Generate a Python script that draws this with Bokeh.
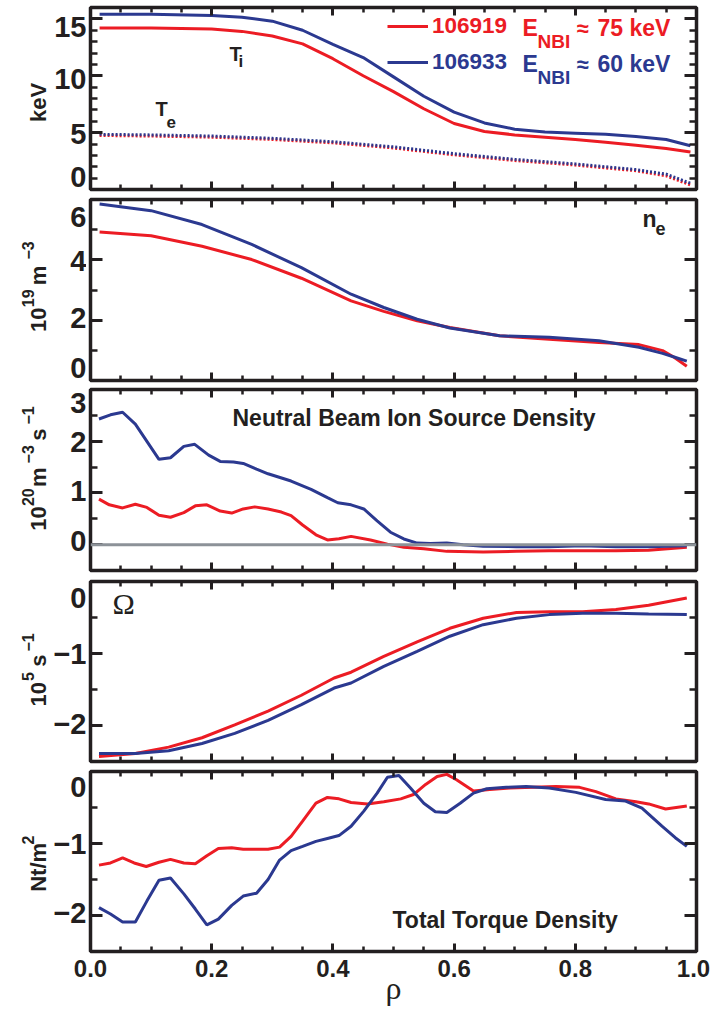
import math
from bokeh.plotting import figure
from bokeh.layouts import column, row
from bokeh.models import (Range1d, LinearAxis, FixedTicker, Label, Legend,
                          LegendItem, Span)
from bokeh.embed import file_html
from bokeh.resources import INLINE

# ---------------- data ----------------
shots = ["106919", "106933"]
enbi = ["75 keV", "60 keV"]

rho_ti = [0.015, 0.1, 0.2, 0.25, 0.3, 0.35, 0.4, 0.45, 0.5, 0.55, 0.6, 0.65, 0.7, 0.75, 0.8, 0.85, 0.9, 0.95, 0.99]
ti_106919 = [14.2, 14.2, 14.1, 13.9, 13.5, 12.8, 11.5, 10.0, 8.6, 7.1, 5.8, 5.1, 4.8, 4.6, 4.4, 4.15, 3.9, 3.6, 3.3]
ti_106933 = [15.4, 15.4, 15.3, 15.15, 14.8, 14.0, 12.75, 11.6, 9.9, 8.2, 6.8, 5.85, 5.3, 5.05, 4.95, 4.85, 4.65, 4.4, 3.85]

rho_te = [0.015, 0.1, 0.2, 0.3, 0.4, 0.5, 0.6, 0.7, 0.8, 0.9, 0.95, 0.99]
te_106919 = [4.75, 4.7, 4.6, 4.4, 4.1, 3.65, 3.05, 2.55, 2.15, 1.65, 1.2, 0.4]
te_106933 = [4.85, 4.8, 4.7, 4.5, 4.2, 3.75, 3.15, 2.65, 2.25, 1.75, 1.35, 0.55]

rho_ne = [0.015, 0.1, 0.184, 0.266, 0.348, 0.43, 0.484, 0.539, 0.593, 0.675, 0.757, 0.839, 0.905, 0.944, 0.963, 0.984]
ne_106919 = [4.92, 4.80, 4.45, 4.01, 3.39, 2.64, 2.29, 1.98, 1.76, 1.48, 1.37, 1.26, 1.19, 0.99, 0.77, 0.47]
ne_106933 = [5.85, 5.63, 5.17, 4.51, 3.74, 2.86, 2.42, 2.03, 1.74, 1.48, 1.43, 1.32, 1.10, 0.90, 0.78, 0.64]

rho_nb_106919 = [0.014, 0.031, 0.053, 0.074, 0.093, 0.113, 0.132, 0.154, 0.173, 0.192,
                 0.214, 0.233, 0.252, 0.271, 0.293, 0.315, 0.331, 0.350, 0.372, 0.391,
                 0.410, 0.43, 0.462, 0.490, 0.517, 0.550, 0.588, 0.648, 0.703, 0.757,
                 0.812, 0.867, 0.921, 0.984]
nb_106919 = [0.88, 0.77, 0.71, 0.78, 0.72, 0.57, 0.53, 0.62, 0.75, 0.77,
             0.65, 0.61, 0.69, 0.73, 0.69, 0.63, 0.56, 0.38, 0.19, 0.09,
             0.115, 0.16, 0.09, 0.01, -0.05, -0.08, -0.13, -0.14, -0.13, -0.12,
             -0.12, -0.12, -0.11, -0.05]
rho_nb_106933 = [0.014, 0.033, 0.053, 0.074, 0.113, 0.132, 0.154, 0.172, 0.195, 0.214,
                 0.236, 0.252, 0.274, 0.293, 0.331, 0.364, 0.391, 0.408, 0.43, 0.451,
                 0.473, 0.495, 0.517, 0.539, 0.561, 0.588, 0.615, 0.648, 0.703, 0.757,
                 0.812, 0.867, 0.921, 0.984]
nb_106933 = [2.43, 2.51, 2.56, 2.33, 1.65, 1.68, 1.90, 1.94, 1.73, 1.61,
             1.60, 1.57, 1.46, 1.37, 1.23, 1.07, 0.91, 0.81, 0.77, 0.69,
             0.46, 0.24, 0.11, 0.03, 0.02, 0.03, 0.0, -0.03, -0.04, -0.04,
             -0.02, -0.04, -0.04, -0.02]

rho_om = [0.014, 0.074, 0.129, 0.184, 0.238, 0.293, 0.348, 0.402, 0.43, 0.484,
          0.539, 0.593, 0.648, 0.703, 0.757, 0.812, 0.867, 0.921, 0.984]
om_106919 = [-2.43, -2.39, -2.30, -2.17, -1.99, -1.80, -1.58, -1.34, -1.26, -1.04,
             -0.84, -0.65, -0.51, -0.43, -0.42, -0.42, -0.39, -0.33, -0.23]
om_106933 = [-2.39, -2.39, -2.35, -2.25, -2.11, -1.93, -1.71, -1.48, -1.41, -1.18,
             -0.97, -0.76, -0.60, -0.51, -0.46, -0.44, -0.44, -0.45, -0.46]

rho_tq_106919 = [0.014, 0.033, 0.053, 0.072, 0.092, 0.113, 0.132, 0.154, 0.173, 0.192,
                 0.211, 0.233, 0.252, 0.274, 0.293, 0.312, 0.331, 0.350, 0.372, 0.391,
                 0.410, 0.430, 0.457, 0.484, 0.512, 0.533, 0.553, 0.572, 0.588, 0.604,
                 0.632, 0.659, 0.692, 0.730, 0.768, 0.807, 0.834, 0.867, 0.900, 0.921,
                 0.949, 0.984]
tq_106919 = [-1.30, -1.27, -1.20, -1.27, -1.32, -1.26, -1.22, -1.27, -1.28, -1.17,
             -1.07, -1.06, -1.08, -1.08, -1.08, -1.05, -0.90, -0.69, -0.44, -0.36,
             -0.38, -0.43, -0.45, -0.42, -0.38, -0.32, -0.18, -0.07, -0.04, -0.115,
             -0.27, -0.25, -0.23, -0.22, -0.21, -0.22, -0.28, -0.38, -0.42, -0.45,
             -0.52, -0.48]
rho_tq_106933 = [0.014, 0.033, 0.053, 0.074, 0.093, 0.113, 0.132, 0.154, 0.173, 0.192,
                 0.211, 0.233, 0.252, 0.274, 0.293, 0.312, 0.331, 0.350, 0.372, 0.391,
                 0.410, 0.430, 0.451, 0.473, 0.490, 0.509, 0.528, 0.550, 0.569, 0.588,
                 0.610, 0.632, 0.654, 0.686, 0.719, 0.757, 0.801, 0.850, 0.883, 0.910,
                 0.943, 0.965, 0.984]
tq_106933 = [-1.89, -1.98, -2.09, -2.09, -1.80, -1.51, -1.48, -1.70, -1.91, -2.13,
             -2.05, -1.86, -1.73, -1.69, -1.50, -1.23, -1.10, -1.04, -0.97, -0.93,
             -0.89, -0.76, -0.55, -0.30, -0.08, -0.055, -0.23, -0.44, -0.56, -0.57,
             -0.44, -0.30, -0.24, -0.22, -0.21, -0.23, -0.29, -0.39, -0.41, -0.51,
             -0.76, -0.92, -1.04]

x_ticks = [0.0, 0.2, 0.4, 0.6, 0.8, 1.0]
x_tick_labels = ["0.0", "0.2", "0.4", "0.6", "0.8", "1.0"]
x_minor = [i * 0.05 for i in range(21)]
y_ticks = [[0, 5, 10, 15], [0, 2, 4, 6], [0, 1, 2, 3], [-2, -1, 0], [-2, -1, 0]]
y_minor = [list(range(0, 17)), list(range(0, 7)), [-0.5, 0, 0.5, 1, 1.5, 2, 2.5, 3],
           [-2.5, -2, -1.5, -1, -0.5, 0], [-2.5, -2, -1.5, -1, -0.5, 0]]
y_ranges = [(0, 16), (0, 6), (-0.5, 3), (-2.5, 0), (-2.5, 0)]

# ---------------- style / layout ----------------
RED = "#ec1c24"
BLUE = "#2b3990"
INK = "#231f20"
GRAY = "#8c9298"
FONT = "Liberation Sans"
SERIF = "Liberation Serif"
LW = 3
MID = 0.33        # distance baseline -> 'middle' anchor, in em

FRAMES = [(7, 189), (199, 380), (389, 570), (581, 761), (771, 951)]
FIG_TOPS = [0, 194, 384, 575, 765, 955]
PAGE_H = 1009
X0, X1 = 90, 696
W_L = 86          # width of the left strip holding the y labels
# vertical nudge (px, down) of each y tick label, imitating the original
ytick_shift = [{15: 2, 10: 1, 5: 3, 0: -8}, {6: 13, 4: -1, 2: -1, 0: -9},
               {3: 9, 2: -1, 1: -1, 0: 0}, {0: 11, -1: -1, -2: 0}, {0: 10, -1: -1, -2: -1}]


def ydata(i, py):
    top, bot = FRAMES[i]
    y0, y1 = y_ranges[i]
    return y1 - (py - top) / (bot - top) * (y1 - y0)


def lab(p, x, y, text, size, color=INK, font=FONT, style="bold", angle=0.0,
        align="left", dx=0.0, dy=0.0, on_baseline=True):
    """(x, y) in data units; if on_baseline, (x, y) is a point of the text baseline."""
    xo, yo = dx, dy
    if on_baseline:
        if angle == 0:
            yo += MID * size
        else:
            xo -= MID * size
    p.add_layout(Label(x=x, y=y, text=text, text_font=font, x_offset=xo, y_offset=yo,
                       text_font_size=f"{size}px", text_font_style=style,
                       text_color=color, angle=angle, text_align=align,
                       text_baseline="middle"))


def txt(p, i, px, py, text, size, **kw):          # inside a main panel (page px)
    lab(p, (px - X0) / (X1 - X0), ydata(i, py), text, size, **kw)


def hide_labels(ax):
    ax.major_label_text_font_size = "1px"
    ax.major_label_text_alpha = 0
    ax.major_label_standoff = 0


def make_main(i):
    top, bot = FRAMES[i]
    ftop, fbot = FIG_TOPS[i], FIG_TOPS[i + 1]
    p = figure(width=712 - W_L, height=fbot - ftop,
               x_range=Range1d(0, 1), y_range=Range1d(*y_ranges[i]),
               output_backend="svg", toolbar_location=None,
               x_axis_location=None, y_axis_location=None,
               min_border_left=X0 - W_L, min_border_right=712 - X1,
               min_border_top=top - ftop, min_border_bottom=fbot - bot)
    p.grid.visible = False
    p.outline_line_color = INK
    p.outline_line_width = 3.5
    p.border_fill_color = "white"

    def style_axis(ax, major_in, minor_in):
        ax.axis_line_color = None
        ax.major_tick_in = major_in
        ax.major_tick_out = 0
        ax.minor_tick_in = minor_in
        ax.minor_tick_out = 0
        ax.major_tick_line_width = 3
        ax.minor_tick_line_width = 2.5
        ax.major_tick_line_color = INK
        ax.minor_tick_line_color = INK
        hide_labels(ax)

    for loc in ("below", "above"):
        ax = LinearAxis(ticker=FixedTicker(ticks=x_ticks, minor_ticks=x_minor))
        style_axis(ax, 8, 5)
        p.add_layout(ax, loc)
    for loc in ("left", "right"):
        ax = LinearAxis(ticker=FixedTicker(ticks=y_ticks[i], minor_ticks=y_minor[i]))
        style_axis(ax, 12, 7)
        p.add_layout(ax, loc)
    return p


def make_left(i):
    ftop, fbot = FIG_TOPS[i], FIG_TOPS[i + 1]
    p = figure(width=W_L, height=fbot - ftop,
               x_range=Range1d(0, W_L), y_range=Range1d(ydata(i, fbot), ydata(i, ftop)),
               output_backend="svg", toolbar_location=None,
               x_axis_location=None, y_axis_location=None,
               min_border_left=0, min_border_right=0, min_border_top=0, min_border_bottom=0)
    p.grid.visible = False
    p.outline_line_color = None
    p.border_fill_color = "white"
    for t in y_ticks[i]:
        s = ("\u2212" + str(-t)) if t < 0 else str(t)
        lab(p, 86, t, s, 29, align="right", dy=-ytick_shift[i][t], on_baseline=False)
    return p


ROT = math.pi / 2
mains = [make_main(i) for i in range(5)]
lefts = [make_left(i) for i in range(5)]
p1, p2, p3, p4, p5 = mains
l1, l2, l3, l4, l5 = lefts

# ---- panel 1: temperatures ----
r_ti1 = p1.line(rho_ti, ti_106919, line_color=RED, line_width=LW)
r_ti2 = p1.line(rho_ti, ti_106933, line_color=BLUE, line_width=LW)
p1.line(rho_te, te_106919, line_color=RED, line_width=LW, line_dash="2 2")
p1.line(rho_te, te_106933, line_color=BLUE, line_width=LW, line_dash="2 2")

LH = 36
for k, (r, col, cy) in enumerate([(r_ti1, RED, 26), (r_ti2, BLUE, 62)]):
    leg = Legend(items=[LegendItem(label=shots[k], renderers=[r])],
                 location=(387 - X0, FRAMES[0][1] - cy - LH // 2),
                 glyph_width=41, glyph_height=LH, label_height=LH, label_standoff=4,
                 padding=0, margin=0, spacing=0,
                 border_line_color=None, background_fill_alpha=0,
                 label_text_font=FONT, label_text_font_style="bold",
                 label_text_font_size="22.5px", label_text_color=col)
    p1.add_layout(leg)
    base = cy + 9
    txt(p1, 0, 522, base, "E", 23, color=col)
    txt(p1, 0, 537, base + 12, "NBI", 19, color=col)
    txt(p1, 0, 576, base, "\u2248", 22, color=col)
    txt(p1, 0, 597, base, enbi[k], 23, color=col)

txt(p1, 0, 229, 60, "T", 20)
txt(p1, 0, 238, 67, "i", 17)
txt(p1, 0, 155, 115, "T", 20)
txt(p1, 0, 166, 127, "e", 17)
lab(l1, 45, ydata(0, 122), "keV", 22, angle=ROT)

# ---- panel 2: density ----
p2.line(rho_ne, ne_106919, line_color=RED, line_width=LW)
p2.line(rho_ne, ne_106933, line_color=BLUE, line_width=LW)
txt(p2, 1, 642, 226, "n", 23)
txt(p2, 1, 655, 234, "e", 18)
lab(l2, 45, ydata(1, 333), "10", 22, angle=ROT)
lab(l2, 33, ydata(1, 307), "19", 16, angle=ROT)
lab(l2, 45, ydata(1, 284), "m", 22, angle=ROT)
lab(l2, 33, ydata(1, 257), "\u22123", 16, angle=ROT)

# ---- panel 3: beam ion source ----
p3.line(rho_nb_106919, nb_106919, line_color=RED, line_width=LW)
p3.line(rho_nb_106933, nb_106933, line_color=BLUE, line_width=LW)
p3.add_layout(Span(location=0, dimension="width", line_color=GRAY, line_width=3))
txt(p3, 2, 232, 425, "Neutral Beam Ion Source Density", 23)
lab(l3, 45, ydata(2, 533), "10", 22, angle=ROT)
lab(l3, 33, ydata(2, 507), "20", 16, angle=ROT)
lab(l3, 45, ydata(2, 487), "m", 22, angle=ROT)
lab(l3, 33, ydata(2, 462), "\u22123", 16, angle=ROT)
lab(l3, 45, ydata(2, 438), "s", 22, angle=ROT)
lab(l3, 33, ydata(2, 421), "\u22121", 16, angle=ROT)

# ---- panel 4: rotation ----
p4.line(rho_om, om_106919, line_color=RED, line_width=LW)
p4.line(rho_om, om_106933, line_color=BLUE, line_width=LW)
txt(p4, 3, 112, 613, "\u03a9", 30, font=SERIF, style="normal")
lab(l4, 45, ydata(3, 707), "10", 22, angle=ROT)
lab(l4, 33, ydata(3, 680), "5", 16, angle=ROT)
lab(l4, 45, ydata(3, 665), "s", 22, angle=ROT)
lab(l4, 33, ydata(3, 649), "\u22121", 16, angle=ROT)

# ---- panel 5: torque ----
p5.line(rho_tq_106919, tq_106919, line_color=RED, line_width=LW)
p5.line(rho_tq_106933, tq_106933, line_color=BLUE, line_width=LW)
txt(p5, 4, 392, 927, "Total Torque Density", 23)
lab(l5, 45, ydata(4, 892), "Nt/m", 22, angle=ROT)
lab(l5, 33, ydata(4, 842), "2", 16, angle=ROT)

# ---- bottom strip: x tick labels and the axis title ----
SB = FIG_TOPS[5]
strip = figure(width=712, height=PAGE_H - SB,
               x_range=Range1d(-X0 / (X1 - X0), 1 + (712 - X1) / (X1 - X0)),
               y_range=Range1d(PAGE_H - SB, 0),
               output_backend="svg", toolbar_location=None,
               x_axis_location=None, y_axis_location=None,
               min_border_left=0, min_border_right=0, min_border_top=0, min_border_bottom=0)
strip.grid.visible = False
strip.outline_line_color = None
for t, s in zip(x_ticks, x_tick_labels):
    lab(strip, t, 967.5 - SB, s, 24, align="center",
        dx=(-3 if t == 1.0 else 0), on_baseline=False)
lab(strip, 0.5, 998.5 - SB, "\u03c1", 32, font=SERIF, style="normal", align="center")

rows = [row(lefts[i], mains[i], spacing=0) for i in range(5)]
layout = column(*rows, strip, spacing=0)
open("out.html", "w").write(file_html(layout, INLINE))
